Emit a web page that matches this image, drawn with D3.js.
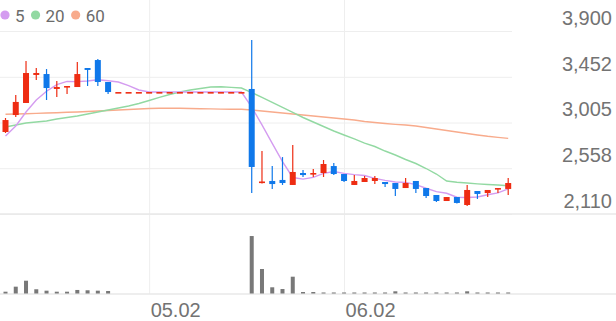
<!DOCTYPE html>
<html>
<head>
<meta charset="utf-8">
<script src="https://cdn.jsdelivr.net/npm/d3@7"></script>
<style>
  html, body { margin: 0; padding: 0; background: #fff; }
  svg { display: block; font-family: Roboto, "Noto Sans", sans-serif; }
</style>
</head>
<body>
<svg id="chart" width="616" height="321"></svg>
<script>
// daily candles, one per trading day (index based)
const openP  = [2912,3078,3196,3470,3479,3333,3347,3352,3538,3616,3401,
  3303,3303,3303,3303,3303,3303,3303,3303,3303,3303,3303,3303,3303,
  3333,2413,2433,2443,2394,2511,2501,2511,2579,2501,2394,2423,2433,2423,2413,2364,
  2433,2364,2296,2237,2276,2198,2335,2315,2355,2355];
const highP  = [3049,3274,3607,3538,3528,3411,3362,3597,3538,3626,3401,
  3303,3303,3303,3303,3303,3303,3303,3303,3303,3303,3303,3303,3303,
  3812,2726,2579,2667,2785,2540,2550,2638,2609,2501,2491,2482,2482,2423,2413,2462,
  2433,2364,2296,2276,2276,2394,2335,2345,2364,2462];
const lowP   = [2902,3059,3196,3421,3225,3254,3284,3352,3362,3362,3284,
  3303,3303,3303,3303,3303,3303,3303,3303,3303,3303,3303,3303,3303,
  2315,2408,2355,2394,2394,2472,2472,2472,2491,2423,2394,2423,2403,2374,2286,2364,
  2315,2267,2227,2237,2213,2188,2257,2276,2315,2296];
const closeP = [3029,3206,3489,3489,3342,3352,3362,3479,3519,3401,3303,
  3303,3303,3303,3303,3303,3303,3303,3303,3303,3303,3303,3303,3303,
  2570,2428,2403,2413,2521,2491,2511,2599,2501,2433,2433,2462,2462,2403,2355,2413,
  2355,2286,2237,2276,2218,2345,2306,2345,2364,2413];
const volume = [23,87,163,54,36,23,23,45,41,36,32,
  0,0,0,0,0,0,0,0,0,0,0,0,0,
  732,312,79,57,214,19,19,13,13,13,13,13,13,13,28,13,
  13,13,13,13,13,28,13,13,13,13];

// moving averages
const ma5 = [2873,2971,3108,3225,3311,3376,3407,3405,3411,3423,3413,3401,3366,3323,
  3303,3303,3303,3303,3303,3303,3303,3303,3303,3303,
  3156,2981,2801,2623,2467,2451,2468,2507,2525,2507,2495,2486,2458,2439,2423,2419,
  2398,2362,2329,2313,2274,2272,2276,2298,2316,2355];
const ma20 = [2961,2981,3000,3010,3020,3039,3054,3069,3088,3108,3127,3147,3166,3191,
  3220,3250,3279,3303,3323,3338,3352,3355,3349,3342,
  3298,3250,3201,3152,3103,3054,3010,2966,2922,2883,2844,2804,2770,2726,2687,2643,
  2604,2555,2501,2433,2420,2413,2405,2399,2394,2387];
const ma60 = [3085,3088,3091,3094,3098,3101,3105,3108,3113,3117,3122,3127,3132,3137,
  3142,3145,3145,3144,3142,3140,3138,3136,3135,3134,
  3127,3117,3108,3098,3088,3078,3069,3059,3049,3039,3029,3015,3005,2995,2987,2981,
  2971,2956,2941,2927,2912,2897,2883,2870,2860,2850];

const priceTicks = [2110, 2558, 3005, 3452, 3900];
const dateLabels = ["05.02", "06.02"];
const dateIndex = [14, 33];
const maNames = ["5", "20", "60"];
const maColors = ["#d49cf0", "#92d9a2", "#f8ab8c"];

const UP = "#ee2c12", DOWN = "#0f78ea";
const W = 616, H = 321;
const plotRight = 512;

const svg = d3.select("#chart");

const x = d3.scaleLinear().domain([0, closeP.length - 1]).range([5.5, 508.2]);
const y = d3.scaleLinear().domain([2110, 3900]).range([214, 31]);
const yv = d3.scaleLinear().domain([0, 1000]).range([293.5, 215]);

// horizontal price grid + labels
const yAxis = svg.append("g")
  .call(d3.axisRight(y).tickValues(priceTicks).tickSize(plotRight).tickFormat(d3.format(",")));
yAxis.select(".domain").remove();
yAxis.selectAll("line").attr("stroke", "#eeeeee");
yAxis.selectAll("text")
  .attr("x", 612).attr("dy", "-0.33em")
  .attr("text-anchor", "end")
  .attr("fill", "#737373")
  .style("font-size", "20px");

// vertical date grid + labels
const xAxis = svg.append("g").attr("transform", "translate(0,294)")
  .call(d3.axisBottom(x).tickValues(dateIndex).tickSize(-294)
    .tickFormat((d, i) => dateLabels[i]));
xAxis.select(".domain").remove();
xAxis.selectAll("line").attr("stroke", "#eeeeee");
xAxis.selectAll("text")
  .attr("x", 1).attr("y", 23).attr("dy", 0)
  .attr("text-anchor", "start")
  .attr("fill", "#737373")
  .style("font-size", "20px");

// separators between price / volume panes
[y(2110), 294].forEach(yy => {
  svg.append("line").attr("x1", 0).attr("x2", W).attr("y1", yy).attr("y2", yy)
    .attr("stroke", "#e8e8e8").attr("stroke-width", 1.5);
});

// volume bars
svg.append("g").selectAll("rect")
  .data(volume)
  .join("rect")
  .attr("x", (d, i) => x(i) - 2)
  .attr("width", 4)
  .attr("y", d => yv(d))
  .attr("height", d => yv(0) - yv(d))
  .attr("fill", "#787878");

// moving average lines
const line = d3.line().x((d, i) => x(i)).y(d => y(d));
[ma60, ma20, ma5].forEach((s, k) => {
  svg.append("path").datum(s)
    .attr("d", line)
    .attr("fill", "none")
    .attr("stroke", maColors[2 - k])
    .attr("stroke-width", 1.4);
});

// candles
const candles = svg.append("g").selectAll("g")
  .data(closeP.map((c, i) => ({i, o: openP[i], h: highP[i], l: lowP[i], c})))
  .join("g")
  .attr("fill", d => d.c >= d.o ? UP : DOWN)
  .attr("stroke", d => d.c >= d.o ? UP : DOWN);

candles.append("line")
  .attr("x1", d => x(d.i)).attr("x2", d => x(d.i))
  .attr("y1", d => y(d.h)).attr("y2", d => y(d.l))
  .attr("stroke-width", 1.2);

candles.append("rect")
  .attr("stroke", "none")
  .attr("x", d => x(d.i) - 3)
  .attr("width", 6)
  .attr("y", d => y(Math.max(d.o, d.c)))
  .attr("height", d => Math.max(1.6, Math.abs(y(d.o) - y(d.c))));

// legend
const legend = svg.append("g");
let lx = 5;
maNames.forEach((n, k) => {
  legend.append("circle").attr("cx", lx).attr("cy", 15).attr("r", 4.6).attr("fill", maColors[k]);
  const t = legend.append("text").attr("x", lx + 10).attr("y", 21.5)
    .attr("fill", "#6b6b6b").style("font-size", "17px").text(n);
  lx += 10 + t.node().getComputedTextLength() + 11;
});
</script>
</body>
</html>
